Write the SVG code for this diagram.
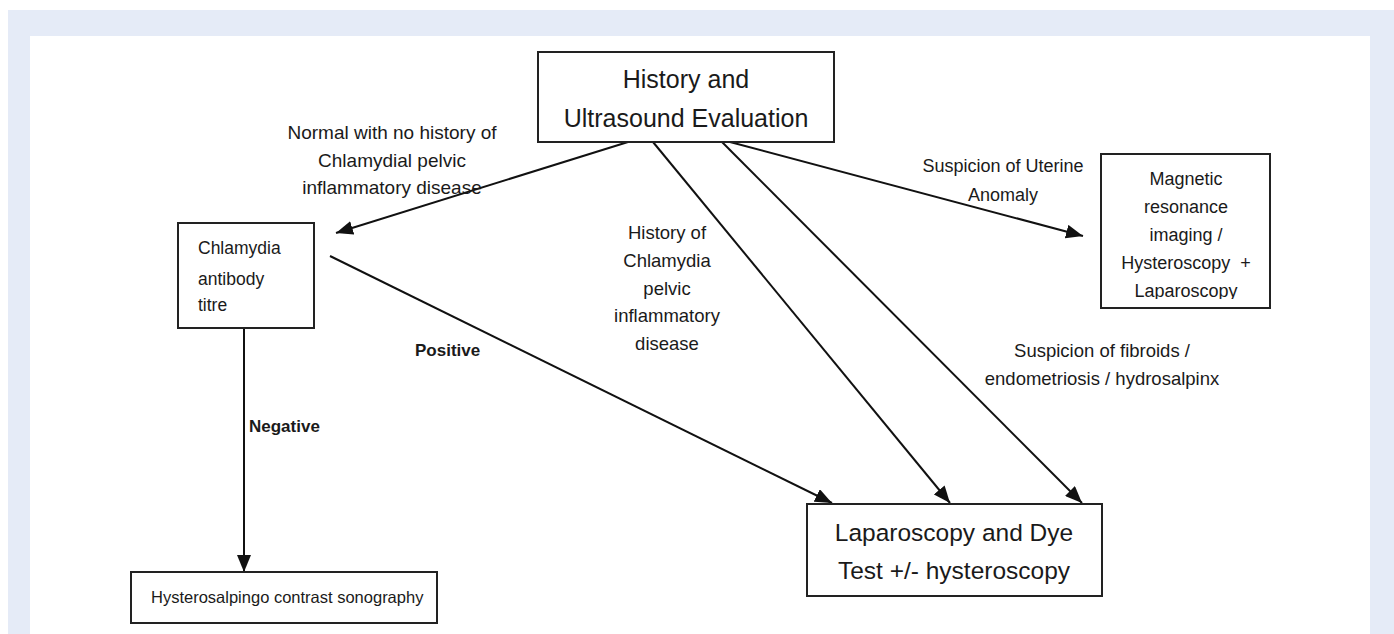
<svg xmlns="http://www.w3.org/2000/svg" width="1394" height="634" viewBox="0 0 1394 634">
<defs>
<style>
.box{fill:#fff;stroke:#222;stroke-width:2}
.t{font-family:"Liberation Sans",Arial,sans-serif;fill:#1a1a1a}
.lbl{font-size:18px;text-anchor:middle}
.l19{font-size:19px}
.l185{font-size:18.5px}
.b{font-weight:bold;font-size:17px}
.con line{stroke:#111;stroke-width:2;fill:none}
</style>
<marker id="ah" markerUnits="userSpaceOnUse" markerWidth="18" markerHeight="14" refX="17" refY="7" orient="auto">
<path d="M0,0 L17,7 L0,14 z" fill="#111"/>
</marker>
<clipPath id="mriclip"><rect x="1101" y="154" width="169" height="145"/></clipPath>
</defs>
<rect x="0" y="0" width="1394" height="634" fill="#fff"/>
<rect x="8" y="10" width="1386" height="624" fill="#e5ebf7"/>
<rect x="30" y="36" width="1340" height="598" fill="#fff"/>

<g class="con">
<line x1="628" y1="142" x2="336" y2="233" marker-end="url(#ah)"/>
<line x1="653" y1="142" x2="950" y2="503" marker-end="url(#ah)"/>
<line x1="722" y1="142" x2="1082" y2="503" marker-end="url(#ah)"/>
<line x1="730" y1="142" x2="1083" y2="236" marker-end="url(#ah)"/>
<line x1="330" y1="256" x2="832" y2="503" marker-end="url(#ah)"/>
<line x1="244" y1="328" x2="244" y2="572" marker-end="url(#ah)"/>
</g>

<g id="labels" class="t">
<text class="lbl l19" x="392" y="139">Normal with no history of</text>
<text class="lbl l19" x="392" y="167">Chlamydial pelvic</text>
<text class="lbl l19" x="392" y="194">inflammatory disease</text>
<text class="lbl" x="1003" y="172">Suspicion of Uterine</text>
<text class="lbl" x="1003" y="201">Anomaly</text>
<text class="lbl l185" x="667" y="239">History of</text>
<text class="lbl l185" x="667" y="267">Chlamydia</text>
<text class="lbl l185" x="667" y="295">pelvic</text>
<text class="lbl l185" x="667" y="322">inflammatory</text>
<text class="lbl l185" x="667" y="350">disease</text>
<text class="lbl l185" x="1102" y="357">Suspicion of fibroids /</text>
<text class="lbl l185" x="1102" y="385">endometriosis / hydrosalpinx</text>
<text class="b" x="415" y="356">Positive</text>
<text class="b" x="249" y="432">Negative</text>
</g>

<g id="history">
<rect class="box" x="538" y="52" width="296" height="90"/>
<text class="t" x="686" y="88" font-size="25" text-anchor="middle">History and</text>
<text class="t" x="686" y="127" font-size="25" text-anchor="middle">Ultrasound Evaluation</text>
</g>

<g id="chlamydia">
<rect class="box" x="178" y="223" width="136" height="105"/>
<text class="t" x="198" y="254" font-size="17.5">Chlamydia</text>
<text class="t" x="198" y="285" font-size="17.5">antibody</text>
<text class="t" x="198" y="311" font-size="17.5">titre</text>
</g>

<g id="mri">
<rect class="box" x="1101" y="154" width="169" height="154"/>
<text class="t lbl" x="1186" y="185">Magnetic</text>
<text class="t lbl" x="1186" y="213">resonance</text>
<text class="t lbl" x="1186" y="241">imaging /</text>
<text class="t lbl" x="1186" y="269" xml:space="preserve">Hysteroscopy  +</text>
<text class="t lbl" x="1186" y="297" clip-path="url(#mriclip)">Laparoscopy</text>
</g>

<g id="laparoscopy">
<rect class="box" x="807" y="504" width="295" height="92"/>
<text class="t" x="954" y="541" font-size="24.5" text-anchor="middle">Laparoscopy and Dye</text>
<text class="t" x="954" y="579" font-size="24.5" text-anchor="middle">Test +/- hysteroscopy</text>
</g>

<g id="hycosy">
<rect class="box" x="131" y="572" width="306" height="51"/>
<text class="t" x="151" y="603" font-size="16.5">Hysterosalpingo contrast sonography</text>
</g>
</svg>
